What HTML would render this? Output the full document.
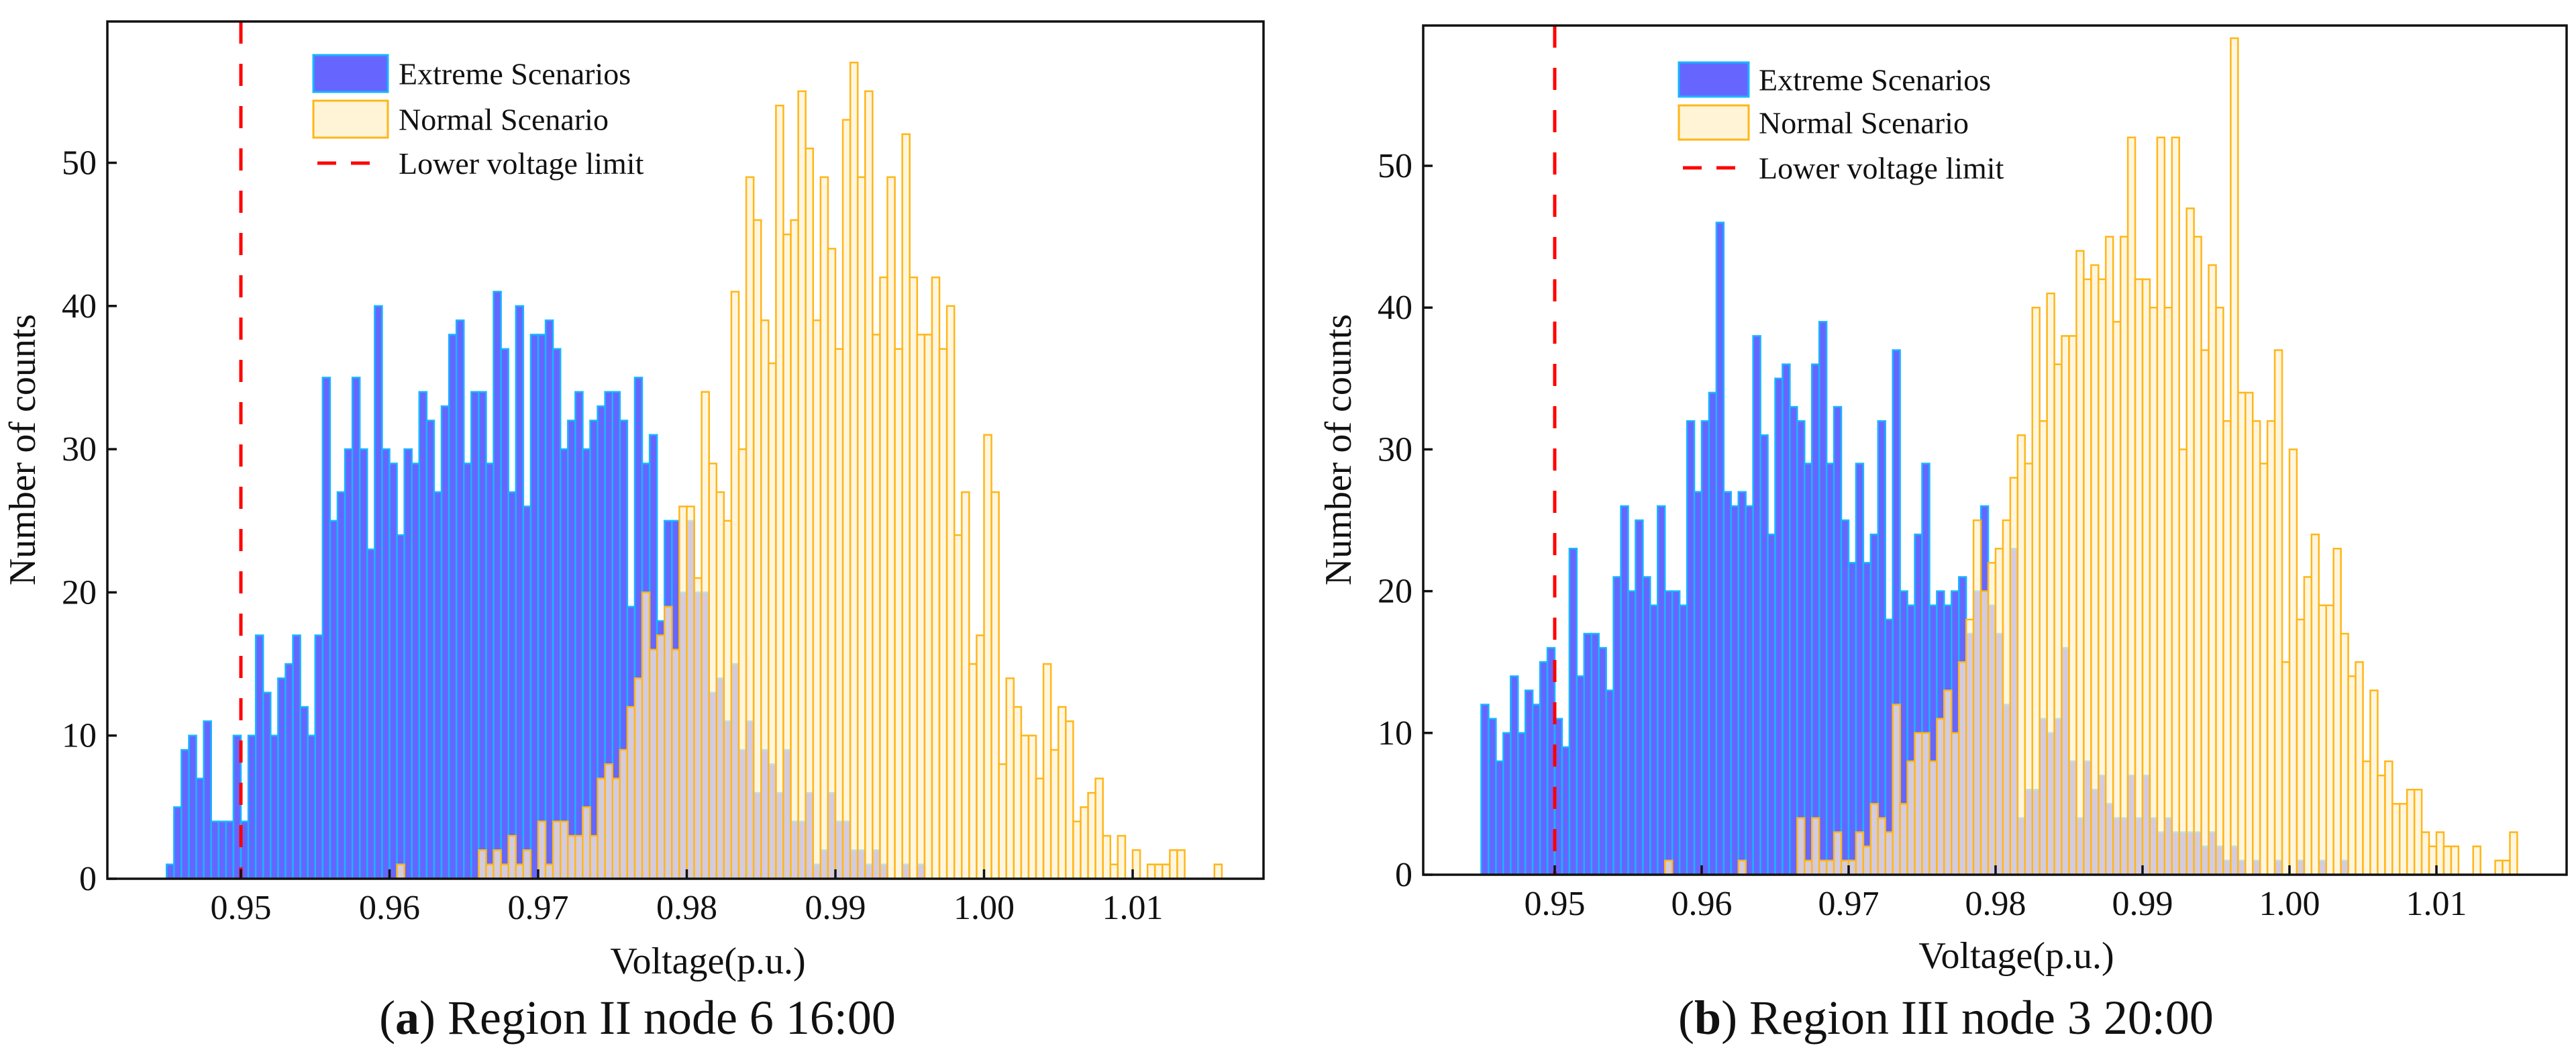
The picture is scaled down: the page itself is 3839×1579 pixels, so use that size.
<!DOCTYPE html>
<html><head><meta charset="utf-8">
<style>
html,body{margin:0;padding:0;background:#fff;}
svg{display:block;}
text{font-family:"Liberation Serif",serif;fill:#111;}
</style></head>
<body>
<svg id="fig" width="3839" height="1579" viewBox="0 0 3839 1579" xmlns="http://www.w3.org/2000/svg"></svg>
<script>
// ---- data (bins of width 0.0005 starting at 0.945) ----
const binStart = 0.945;
const binWidth = 0.0005;
const xTicks = [0.95, 0.96, 0.97, 0.98, 0.99, 1.00, 1.01];
const xTickLabels = ["0.95","0.96","0.97","0.98","0.99","1.00","1.01"];
const yTicks = [0, 10, 20, 30, 40, 50];
const yTickLabels = ["0","10","20","30","40","50"];
const lowerLimit = 0.95;

const extremeA = [1,5,9,10,7,11,4,4,4,10,4,10,17,13,10,14,15,17,12,10,17,35,25,27,30,35,30,23,40,30,29,24,30,29,34,32,27,33,38,39,29,34,34,29,41,37,27,40,26,38,38,39,37,30,32,34,30,32,33,34,34,32,19,35,29,31,18,25,25,20,25,20,20,13,14,11,15,9,11,6,9,8,6,9,4,4,6,1,2,6,4,4,2,2,1,2,1,0,0,1,0,1];
const normalA = [0,0,0,0,0,0,0,0,0,0,0,0,0,0,0,0,0,0,0,0,0,0,0,0,0,0,0,0,0,0,0,1,0,0,0,0,0,0,0,0,0,0,2,1,2,1,3,1,2,0,4,1,4,4,3,3,5,3,7,8,7,9,12,14,20,16,17,19,16,26,26,21,34,29,27,25,41,30,49,46,39,36,54,45,46,55,51,39,49,44,37,53,57,49,55,38,42,49,37,52,42,38,38,42,37,40,24,27,15,17,31,27,8,14,12,10,10,7,15,9,12,11,4,5,6,7,3,1,3,0,2,0,1,1,1,2,2,0,0,0,0,1];

const extremeB = [12,11,8,10,14,10,13,12,15,16,11,9,23,14,17,17,16,13,21,26,20,25,21,19,26,20,20,19,32,27,32,34,46,27,26,27,26,38,31,24,35,36,33,32,29,36,39,29,33,25,22,29,22,24,32,18,37,20,19,24,29,19,20,19,20,21,17,20,26,19,17,12,23,4,6,6,11,10,11,16,8,4,8,6,7,5,4,4,7,4,7,4,3,4,3,3,3,3,2,3,2,1,2,1,0,1,0,0,1,0,0,1,0,0,1,0,0,1];
const normalB = [0,0,0,0,0,0,0,0,0,0,0,0,0,0,0,0,0,0,0,0,0,0,0,0,0,1,0,0,0,0,0,0,0,0,0,1,0,0,0,0,0,0,0,4,1,4,1,1,3,1,1,3,2,5,4,3,12,5,8,10,10,8,11,13,10,15,18,25,20,22,23,25,28,31,29,40,32,41,36,38,38,44,42,43,42,45,39,45,52,42,42,40,52,40,52,30,47,45,37,43,40,32,59,34,34,32,29,32,37,15,30,18,21,24,19,19,23,17,14,15,8,13,7,8,5,5,6,6,3,2,3,2,2,0,0,2,0,0,1,1,3];

const NS = "http://www.w3.org/2000/svg";
const svg = document.getElementById('fig');
function mk(tag, attrs, parent){
  const e = document.createElementNS(NS, tag);
  for (const k in attrs) e.setAttribute(k, attrs[k]);
  (parent||svg).appendChild(e);
  return e;
}

function drawChart(cfg){
  const g = mk('g', {});
  
  
  const X = v => cfg.x0 + (v - 0.95) * cfg.xs;
  const Y = c => cfg.y0 - c * cfg.ys;
  cfg.extreme.forEach((c, i) => {
    if (c <= 0) return;
    const v = binStart + i * binWidth;
    const r = mk('rect', {x: X(v), y: Y(c), width: X(v + binWidth) - X(v), height: Y(0) - Y(c), fill: '#6666ff', stroke: '#19b5ff', 'stroke-width': 2.5}, g);
    
    
  });
  cfg.normal.forEach((c, i) => {
    if (c <= 0) return;
    const v = binStart + i * binWidth;
    const r = mk('rect', {x: X(v), y: Y(c), width: X(v + binWidth) - X(v), height: Y(0) - Y(c), fill: 'rgba(255,243,210,0.72)', stroke: '#ffb619', 'stroke-width': 2.5}, g);
    
    
  });
  const ll = mk('line', {x1: X(lowerLimit), x2: X(lowerLimit), y1: cfg.top, y2: cfg.y0, stroke: '#ff0000', 'stroke-width': 5, 'stroke-dasharray': '33 30'}, g);
  
  
  const fr = mk('rect', {x: cfg.left, y: cfg.top, width: cfg.right - cfg.left, height: cfg.y0 - cfg.top, fill: 'none', stroke: '#111', 'stroke-width': 3.5}, g);
  
  
  xTicks.forEach((t, i) => {
    const tk = mk('line', {x1: X(t), x2: X(t), y1: cfg.y0, y2: cfg.y0 - 14, stroke: '#111', 'stroke-width': 3.5}, g);
    
    
    const tl = mk('text', {x: X(t), y: cfg.y0 + 60, 'font-size': 52, 'text-anchor': 'middle'}, g);
    tl.textContent = xTickLabels[i];
    
    
  });
  yTicks.forEach((t, i) => {
    const tk = mk('line', {x1: cfg.left, x2: cfg.left + 14, y1: Y(t), y2: Y(t), stroke: '#111', 'stroke-width': 3.5}, g);
    
    
    const tl = mk('text', {x: cfg.left - 16, y: Y(t) + 17, 'font-size': 52, 'text-anchor': 'end'}, g);
    tl.textContent = yTickLabels[i];
    
    
  });
  const yt = mk('text', {x: 0, y: 0, 'font-size': 56, 'text-anchor': 'middle', transform: `translate(${cfg.ytX},670) rotate(-90)`}, g);
  yt.textContent = 'Number of counts';
  
  
  const xt = mk('text', {x: cfg.xtX, y: cfg.xtY, 'font-size': 56, 'text-anchor': 'middle'}, g);
  xt.textContent = 'Voltage(p.u.)';
  
  
  const cp = mk('text', {x: cfg.capX, y: 1540, 'font-size': 72, 'text-anchor': 'middle'}, g);
  
  
  const t1 = mk('tspan', {}, cp); t1.textContent = '(';
  const t2 = mk('tspan', {'font-weight': 'bold'}, cp); t2.textContent = cfg.letter;
  const t3 = mk('tspan', {}, cp); t3.textContent = ') ' + cfg.caption;
  const L = cfg.leg;
  const lg = mk('g', {}, g);
  
  
  const p1 = mk('rect', {x: L.x, y: L.y1, width: L.w, height: L.h, fill: '#6666ff', stroke: '#19b5ff', 'stroke-width': 3}, lg);
  
  
  const p2 = mk('rect', {x: L.x, y: L.y2, width: L.w, height: L.h, fill: '#fff4d6', stroke: '#ffb619', 'stroke-width': 3}, lg);
  
  
  const p3 = mk('line', {x1: L.x + 6, x2: L.x + L.w - 6, y1: L.y3, y2: L.y3, stroke: '#ff0000', 'stroke-width': 5, 'stroke-dasharray': '28 22'}, lg);
  
  
  [['Extreme Scenarios', L.y1 + L.h / 2], ['Normal Scenario', L.y2 + L.h / 2], ['Lower voltage limit', L.y3]].forEach(([s, cy]) => {
    const t = mk('text', {x: L.tx, y: cy + 16, 'font-size': 46}, lg);
    t.textContent = s;
    
    
  });
}

drawChart({name: 'chart-a', extreme: extremeA, normal: normalA,
  left: 160, right: 1883, top: 32, y0: 1309, x0: 359, xs: 22150, ys: 21.33,
  ytX: 52, xtX: 1055, xtY: 1450, capX: 950, letter: 'a', caption: 'Region II node 6 16:00',
  leg: {x: 467, w: 111, y1: 82, y2: 150, h: 55, y3: 243, tx: 594}});
drawChart({name: 'chart-b', extreme: extremeB, normal: normalB,
  left: 2121, right: 3825, top: 38, y0: 1303, x0: 2317, xs: 21900, ys: 21.12,
  ytX: 2013, xtX: 3005, xtY: 1442, capX: 2900, letter: 'b', caption: 'Region III node 3 20:00',
  leg: {x: 2502, w: 104, y1: 93, y2: 157, h: 51, y3: 250, tx: 2621}});
</script>
</body></html>
